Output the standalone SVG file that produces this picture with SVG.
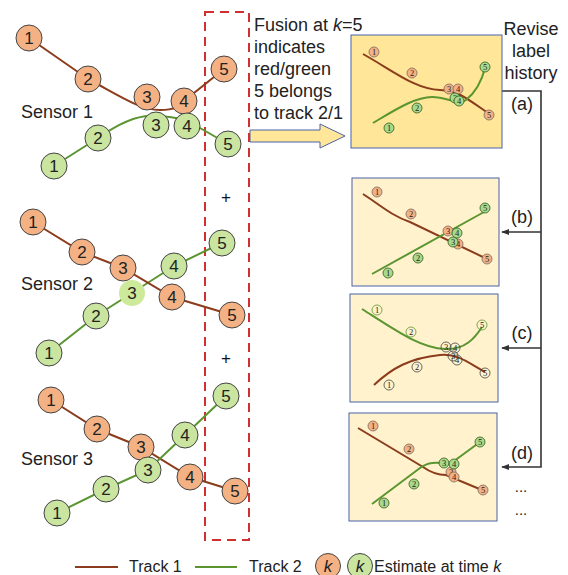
<svg xmlns="http://www.w3.org/2000/svg" width="568" height="575" viewBox="0 0 568 575">
<style>
text{font-family:"Liberation Sans",Arial,sans-serif;fill:#222}
.lbl{font-size:18px}
.num{font-size:17px;text-anchor:middle}
.plus{font-size:17px;text-anchor:middle;fill:#111}
.sn{font-family:"Liberation Serif","Times New Roman",serif;font-size:8.5px;text-anchor:middle}
.o{fill:#f4b183;stroke:#444;stroke-width:1}
.g{fill:#c9e5a0;stroke:#444;stroke-width:1}
.so{fill:#f4b183;stroke:#7a6a60;stroke-width:0.8}
.sg{fill:#a9d98a;stroke:#2f5a1a;stroke-width:0.8}
.cg{fill:none;stroke:#5a9530;stroke-width:0.8}
.cd{fill:none;stroke:#444;stroke-width:0.8}
.tb{fill:none;stroke:#8b3c1c;stroke-width:2}
.tg{fill:none;stroke:#5a9530;stroke-width:2}
.pan{stroke:#4a62a8;stroke-width:1}
.con{fill:none;stroke:#333;stroke-width:1.6}
</style>
<defs>
<marker id="ah" viewBox="0 0 10 10" refX="9" refY="5" markerWidth="5" markerHeight="5" orient="auto">
<path d="M0,1 L10,5 L0,9 z" fill="#333"/>
</marker>
</defs>

<!-- fusion dashed box -->
<g id="fusion-box">
<rect x="205" y="12" width="44" height="528" fill="none" stroke="#d03030" stroke-width="2" stroke-dasharray="9,6"/>
<text x="226" y="203" class="plus">+</text>
<text x="226" y="364" class="plus">+</text>
</g>

<!-- Sensor 1 -->
<g id="sensor1">
<text x="21" y="118" class="lbl">Sensor 1</text>
<path class="tb" d="M29,38 L88,79 C120,96 140,110 160,110 C175,110 180,106 184,101 L224,69"/>
<path class="tg" d="M54,166 L98,138 C118,124 135,116 150,116 C170,116 185,118 200,128 L228,144"/>
<circle class="o" cx="29" cy="38" r="13"/><text class="num" x="29" y="44">1</text>
<circle class="o" cx="88" cy="79" r="13"/><text class="num" x="88" y="85">2</text>
<circle class="o" cx="147" cy="97" r="13"/><text class="num" x="147" y="103">3</text>
<circle class="o" cx="184" cy="101" r="13"/><text class="num" x="184" y="107">4</text>
<circle class="o" cx="224" cy="69" r="13"/><text class="num" x="224" y="75">5</text>
<circle class="g" cx="54" cy="166" r="13"/><text class="num" x="54" y="172">1</text>
<circle class="g" cx="98" cy="138" r="13"/><text class="num" x="98" y="144">2</text>
<circle class="g" cx="156" cy="125" r="13"/><text class="num" x="156" y="131">3</text>
<circle class="g" cx="187" cy="126" r="13"/><text class="num" x="187" y="132">4</text>
<circle class="g" cx="228" cy="144" r="13"/><text class="num" x="228" y="150">5</text>
</g>

<!-- Sensor 2 -->
<g id="sensor2">
<text x="21" y="290" class="lbl">Sensor 2</text>
<path class="tg" d="M49,353 L96,316 L132,293 L174,266 L222,243"/>
<path class="tb" d="M33,222 L82,252 L123,268 L172,297 L232,315"/>
<circle class="o" cx="33" cy="222" r="13"/><text class="num" x="33" y="228">1</text>
<circle class="o" cx="82" cy="252" r="13"/><text class="num" x="82" y="258">2</text>
<circle class="o" cx="123" cy="268" r="13"/><text class="num" x="123" y="274">3</text>
<circle class="o" cx="172" cy="297" r="13"/><text class="num" x="172" y="303">4</text>
<circle class="o" cx="232" cy="315" r="13"/><text class="num" x="232" y="321">5</text>
<circle class="g" cx="49" cy="353" r="13"/><text class="num" x="49" y="359">1</text>
<circle class="g" cx="96" cy="316" r="13"/><text class="num" x="96" y="322">2</text>
<circle cx="132" cy="293" r="13" fill="#cde99a"/><text class="num" x="132" y="299">3</text>
<circle class="g" cx="174" cy="266" r="13"/><text class="num" x="174" y="272">4</text>
<circle class="g" cx="222" cy="243" r="13"/><text class="num" x="222" y="249">5</text>
</g>

<!-- Sensor 3 -->
<g id="sensor3">
<text x="21" y="465" class="lbl">Sensor 3</text>
<path class="tb" d="M51,400 L97,429 L141,447 L190,477 L235,491"/>
<path class="tg" d="M57,513 L106,489 L148,470 L185,435 L226,396"/>
<circle class="o" cx="51" cy="400" r="13"/><text class="num" x="51" y="406">1</text>
<circle class="o" cx="97" cy="429" r="13"/><text class="num" x="97" y="435">2</text>
<circle class="o" cx="141" cy="447" r="13"/><text class="num" x="141" y="453">3</text>
<circle class="o" cx="190" cy="477" r="13"/><text class="num" x="190" y="483">4</text>
<circle class="o" cx="235" cy="491" r="13"/><text class="num" x="235" y="497">5</text>
<circle class="g" cx="57" cy="513" r="13"/><text class="num" x="57" y="519">1</text>
<circle class="g" cx="106" cy="489" r="13"/><text class="num" x="106" y="495">2</text>
<circle class="g" cx="148" cy="470" r="13"/><text class="num" x="148" y="476">3</text>
<circle class="g" cx="185" cy="435" r="13"/><text class="num" x="185" y="441">4</text>
<circle class="g" cx="226" cy="396" r="13"/><text class="num" x="226" y="402">5</text>
</g>

<!-- Fusion text and arrow -->
<g id="fusion-note">
<text class="lbl" x="254"><tspan x="254" y="31">Fusion at <tspan font-style="italic">k</tspan>=5</tspan><tspan x="254" y="53">indicates</tspan><tspan x="254" y="75">red/green</tspan><tspan x="254" y="97">5 belongs</tspan><tspan x="254" y="119">to track 2/1</tspan></text>
<polygon points="250,130 320,130 320,124 345,136 320,148 320,142 250,142" fill="#ffe699" stroke="#4a62a8" stroke-width="1"/>
</g>

<g id="revise-note">
<text class="lbl" text-anchor="middle"><tspan x="531" y="35">Revise</tspan><tspan x="531" y="57">label</tspan><tspan x="531" y="79">history</tspan></text>
</g>

<!-- connectors -->
<g id="connectors">
<path class="con" d="M502,91 H541 V467 H502" marker-end="url(#ah)"/>
<path class="con" d="M541,232 H502" marker-end="url(#ah)"/>
<path class="con" d="M541,348 H502" marker-end="url(#ah)"/>
<text class="lbl" x="522" y="110" text-anchor="middle">(a)</text>
<text class="lbl" x="522" y="223" text-anchor="middle">(b)</text>
<text class="lbl" x="522" y="339" text-anchor="middle">(c)</text>
<text class="lbl" x="522" y="459" text-anchor="middle">(d)</text>
<text x="521" y="492" text-anchor="middle" style="font-size:15px">...</text>
<text x="521" y="515" text-anchor="middle" style="font-size:15px">...</text>
</g>

<!-- Panel a -->
<g id="panel-a">
<rect class="pan" x="351" y="35" width="151" height="113" fill="#ffe699"/>
<path class="tb" d="M363,54 C395,72 415,89 440,90 C458,91 462,95 488,113"/>
<path class="tg" d="M373,123 C395,110 415,97 432,97 C448,97 458,106 466,100 C476,92 482,80 485,68"/>
<circle class="so" cx="374" cy="52" r="5"/><text class="sn" x="374" y="55">1</text>
<circle class="so" cx="412" cy="73" r="5"/><text class="sn" x="412" y="76">2</text>
<circle class="so" cx="449" cy="89" r="5"/><text class="sn" x="449" y="92">3</text>
<circle class="so" cx="458" cy="89" r="5"/><text class="sn" x="458" y="92">4</text>
<circle class="so" cx="489" cy="115" r="5"/><text class="sn" x="489" y="118">5</text>
<circle class="sg" cx="389" cy="128" r="5"/><text class="sn" x="389" y="131">1</text>
<circle class="sg" cx="417" cy="108" r="5"/><text class="sn" x="417" y="111">2</text>
<circle class="sg" cx="455" cy="98" r="5"/><text class="sn" x="455" y="101">3</text>
<circle class="sg" cx="459" cy="101" r="5"/><text class="sn" x="459" y="104">4</text>
<circle class="sg" cx="485" cy="67" r="5"/><text class="sn" x="485" y="70">5</text>
</g>

<!-- Panel b -->
<g id="panel-b">
<rect class="pan" x="352" y="178" width="147" height="108" fill="#fff2cc"/>
<path class="tb" d="M363,194 C380,205 392,216 410,222 L485,258"/>
<path class="tg" d="M372,274 L484,212"/>
<circle class="so" cx="377" cy="192" r="5"/><text class="sn" x="377" y="195">1</text>
<circle class="so" cx="411" cy="214" r="5"/><text class="sn" x="411" y="217">2</text>
<circle class="so" cx="448" cy="231" r="5"/><text class="sn" x="448" y="234">3</text>
<circle class="so" cx="458" cy="244" r="5"/><text class="sn" x="458" y="247">4</text>
<circle class="so" cx="487" cy="259" r="5"/><text class="sn" x="487" y="262">5</text>
<circle class="sg" cx="388" cy="273" r="5"/><text class="sn" x="388" y="276">1</text>
<circle class="sg" cx="418" cy="258" r="5"/><text class="sn" x="418" y="261">2</text>
<circle class="sg" cx="453" cy="242" r="5"/><text class="sn" x="453" y="245">3</text>
<circle class="sg" cx="457" cy="233" r="5"/><text class="sn" x="457" y="236">4</text>
<circle class="sg" cx="485" cy="208" r="5"/><text class="sn" x="485" y="211">5</text>
</g>

<!-- Panel c -->
<g id="panel-c">
<rect class="pan" x="350" y="294" width="148" height="108" fill="#fff2cc"/>
<path class="tg" d="M362,309 C395,330 420,348 445,349 C465,350 475,338 482,327"/>
<path class="tb" d="M374,385 C392,368 410,358 440,355 C458,353 470,364 485,372"/>
<circle class="cg" cx="377" cy="310" r="5"/><text class="sn" x="377" y="313">1</text>
<circle class="cg" cx="411" cy="332" r="5"/><text class="sn" x="411" y="335">2</text>
<circle class="cd" cx="446" cy="347" r="5" fill="#fff2cc"/><text class="sn" x="446" y="350">3</text>
<circle class="cd" cx="455" cy="348" r="5" fill="#fff2cc"/><text class="sn" x="455" y="351">4</text>
<circle class="cg" cx="482" cy="325" r="5" fill="#fff2cc"/><text class="sn" x="482" y="328">5</text>
<circle class="cd" cx="389" cy="385" r="5"/><text class="sn" x="389" y="388">1</text>
<circle class="cd" cx="417" cy="367" r="5" fill="#fff2cc"/><text class="sn" x="417" y="370">2</text>
<circle class="cd" cx="457" cy="360" r="5" fill="#fff2cc"/><text class="sn" x="457" y="363">4</text>
<circle class="cd" cx="453" cy="356" r="5" fill="#fff2cc"/><text class="sn" x="453" y="359">3</text>
<circle class="cd" cx="485" cy="373" r="5" fill="#fff2cc"/><text class="sn" x="485" y="376">5</text>
</g>

<!-- Panel d -->
<g id="panel-d">
<rect class="pan" x="349" y="413" width="148" height="108" fill="#fff2cc"/>
<path class="tb" d="M358,428 L423,467 C430,472 437,475 446,475 L482,490"/>
<path class="tg" d="M372,504 L420,468 C428,462 435,462 450,464 L480,442"/>
<circle class="so" cx="373" cy="426" r="5"/><text class="sn" x="373" y="429">1</text>
<circle class="so" cx="409" cy="449" r="5"/><text class="sn" x="409" y="452">2</text>
<circle class="so" cx="451" cy="472" r="5"/><text class="sn" x="451" y="475">3</text>
<circle class="so" cx="454" cy="477" r="5"/><text class="sn" x="454" y="480">4</text>
<circle class="so" cx="483" cy="490" r="5"/><text class="sn" x="483" y="493">5</text>
<circle class="sg" cx="384" cy="503" r="5"/><text class="sn" x="384" y="506">1</text>
<circle class="sg" cx="414" cy="484" r="5"/><text class="sn" x="414" y="487">2</text>
<circle class="sg" cx="444" cy="463" r="5"/><text class="sn" x="444" y="466">3</text>
<circle class="sg" cx="454" cy="464" r="5"/><text class="sn" x="454" y="467">4</text>
<circle class="sg" cx="480" cy="442" r="5"/><text class="sn" x="480" y="445">5</text>
</g>

<!-- Legend -->
<g id="legend">
<line x1="75" y1="567" x2="118" y2="567" class="tb"/>
<text x="129" y="572" style="font-size:16px">Track 1</text>
<line x1="195" y1="567" x2="237" y2="567" class="tg"/>
<text x="249" y="572" style="font-size:16px">Track 2</text>
<circle class="o" cx="328" cy="566" r="12.5"/><text class="num" x="328" y="572" font-style="italic">k</text>
<circle class="g" cx="360" cy="566" r="12.5"/><text class="num" x="360" y="572" font-style="italic">k</text>
<text x="374" y="572" style="font-size:16px">Estimate at time <tspan font-style="italic">k</tspan></text>
</g>
</svg>
